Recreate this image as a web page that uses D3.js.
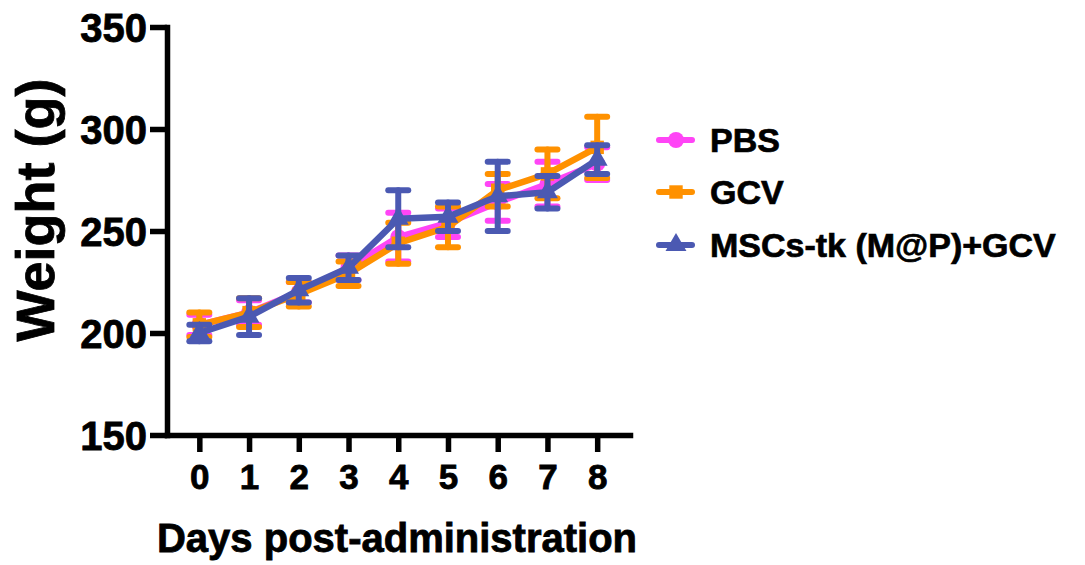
<!DOCTYPE html>
<html>
<head>
<meta charset="utf-8">
<script src="https://cdn.jsdelivr.net/npm/d3@7"></script>
<style>
  body { margin: 0; background: #fff; }
  svg { display: block; font-family: "Liberation Sans", Arial, sans-serif; font-weight: bold; }
</style>
</head>
<body>
<svg id="chart" width="1085" height="565"></svg>
<script>
// data
var days = [0, 1, 2, 3, 4, 5, 6, 7, 8];
var pbsMean = [204, 210, 220, 232, 247, 254, 264, 273, 283];
var pbsErr  = [5, 6, 5, 6, 12, 7, 9, 11, 8];
var gcvMean = [204, 210, 219, 229, 244, 252, 270, 278, 291];
var gcvErr  = [6, 7, 6, 6, 10, 10, 8, 12, 15];
var mscMean = [200, 208, 221, 232, 256, 257, 267, 269, 285];
var mscErr  = [4, 9, 6, 6, 14, 7, 17, 8, 7];
var yTicks = [150, 200, 250, 300, 350];
var groups = ["PBS", "GCV", "MSCs-tk (M@P)+GCV"];

var series = [
  { name: groups[0], mean: pbsMean, err: pbsErr, color: "#ff45f6", symbol: d3.symbolCircle, size: 200 },
  { name: groups[1], mean: gcvMean, err: gcvErr, color: "#ff9100", symbol: d3.symbolSquare, size: 180 },
  { name: groups[2], mean: mscMean, err: mscErr, color: "#4b59b2", symbol: d3.symbolTriangle, size: 190 }
];

var svg = d3.select("#chart");

var x = d3.scaleLinear().domain([-0.65, 8.66]).range([167, 630]);
var y = d3.scaleLinear().domain([150, 350]).range([435, 27]);

// axes
var yAxis = svg.append("g")
  .attr("transform", "translate(167,0)")
  .call(d3.axisLeft(y).tickValues(yTicks).tickSize(17).tickSizeOuter(0).tickPadding(3));
var xAxis = svg.append("g")
  .attr("transform", "translate(0,435)")
  .call(d3.axisBottom(x).tickValues(days).tickSize(17).tickSizeOuter(0).tickPadding(6));

[yAxis, xAxis].forEach(function (g) {
  g.select(".domain").attr("stroke", "#000").attr("stroke-width", 5.5).attr("stroke-linecap", "square");
  g.selectAll(".tick line").attr("stroke", "#000").attr("stroke-width", 5.5);
  g.selectAll(".tick text").attr("fill", "#000").style("font-family", "Liberation Sans, Arial, sans-serif")
    .style("font-weight", "bold").attr("stroke", "#000").attr("stroke-width", 0.8);
});
yAxis.selectAll(".tick text").style("font-size", "40px").attr("dy", "0.36em");
xAxis.selectAll(".tick text").style("font-size", "35px").attr("dy", "0.88em");

// axis titles
svg.append("text")
  .attr("x", 397).attr("y", 552)
  .attr("text-anchor", "middle")
  .attr("stroke", "#000").attr("stroke-width", 0.8)
  .style("font-size", "40px")
  .text("Days post-administration");

svg.append("text")
  .attr("transform", "translate(54,210) rotate(-90)")
  .attr("text-anchor", "middle")
  .attr("stroke", "#000").attr("stroke-width", 0.8)
  .style("font-size", "54px")
  .text("Weight (g)");

// series
var line = d3.line()
  .x(function (d) { return x(d.day); })
  .y(function (d) { return y(d.mean); });

series.forEach(function (s) {
  var pts = days.map(function (d, i) { return { day: d, mean: s.mean[i], err: s.err[i] }; });
  var g = svg.append("g");

  var eb = g.selectAll(".eb").data(pts).enter().append("g")
    .attr("stroke", s.color).attr("stroke-width", 6).attr("stroke-linecap", "round");
  eb.append("line")
    .attr("x1", function (d) { return x(d.day); }).attr("x2", function (d) { return x(d.day); })
    .attr("y1", function (d) { return y(d.mean - d.err); }).attr("y2", function (d) { return y(d.mean + d.err); });
  [1, -1].forEach(function (sign) {
    eb.append("line")
      .attr("x1", function (d) { return x(d.day) - 10; }).attr("x2", function (d) { return x(d.day) + 10; })
      .attr("y1", function (d) { return y(d.mean + sign * d.err); })
      .attr("y2", function (d) { return y(d.mean + sign * d.err); });
  });

  g.append("path").datum(pts)
    .attr("fill", "none").attr("stroke", s.color).attr("stroke-width", 6.5)
    .attr("stroke-linejoin", "round")
    .attr("d", line);

  g.selectAll(".pt").data(pts).enter().append("path")
    .attr("transform", function (d) { return "translate(" + x(d.day) + "," + y(d.mean) + ")"; })
    .attr("d", d3.symbol().type(s.symbol).size(s.size))
    .attr("fill", s.color);
});

// legend
var leg = svg.append("g").selectAll("g").data(series).enter().append("g")
  .attr("transform", function (d, i) { return "translate(0," + [140, 192, 245][i] + ")"; });
leg.append("line")
  .attr("x1", 659).attr("x2", 692).attr("y1", 0).attr("y2", 0)
  .attr("stroke", function (d) { return d.color; }).attr("stroke-width", 6).attr("stroke-linecap", "round");
leg.append("path")
  .attr("transform", "translate(676,0)")
  .attr("d", function (d) { return d3.symbol().type(d.symbol).size(d.size)(); })
  .attr("fill", function (d) { return d.color; });
leg.append("text")
  .attr("x", 710).attr("y", 12)
  .attr("stroke", "#000").attr("stroke-width", 0.7)
  .style("font-size", "34px")
  .text(function (d) { return d.name; });
</script>
</body>
</html>
